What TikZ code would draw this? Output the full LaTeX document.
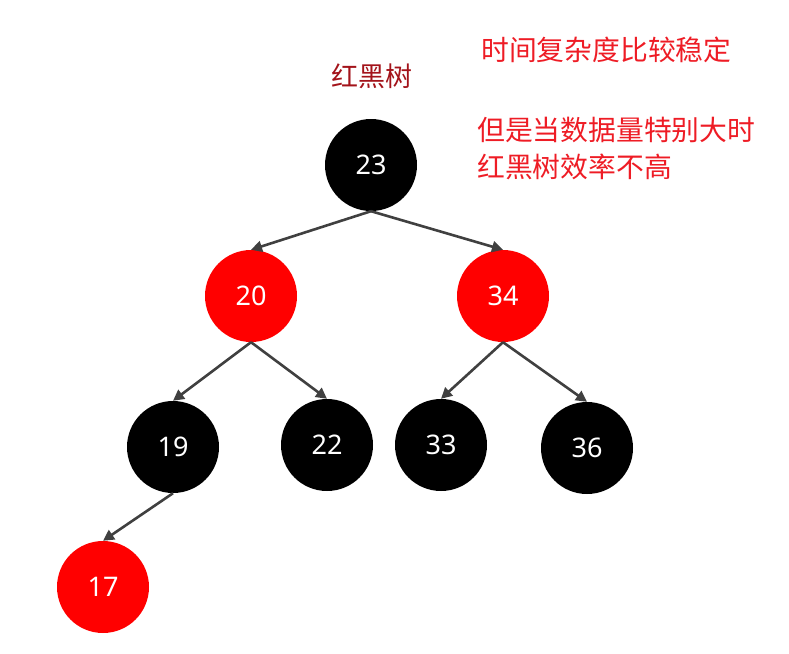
\documentclass[tikz,border=0pt]{standalone}
\usepackage{fontspec}
\setmainfont{Noto Sans}
\newfontfamily\cjk{Noto Sans CJK SC}
\usetikzlibrary{arrows.meta}
\definecolor{rbred}{HTML}{FF0000}
\definecolor{notered}{HTML}{EE1C25}
\definecolor{titlered}{HTML}{A3131A}
\definecolor{linegray}{HTML}{404040}

\begin{document}
\begin{tikzpicture}[x=1pt, y=-1pt,
    blacknode/.style={circle, fill=black, minimum size=92pt, inner sep=0pt,
      text=white, font=\fontsize{27}{27}\selectfont},
    rednode/.style={blacknode, fill=rbred},
    treearrow/.style={draw=linegray, line width=2.6pt, -{Triangle[length=11pt, width=11pt]}},
    note/.style={text=notered, font=\cjk\fontsize{27.8}{37}\selectfont, anchor=west, align=left, inner sep=0pt}]
  \useasboundingbox (0,0) rectangle (789,653);

  % tree nodes
  \node[blacknode] (n23) at (371,165) {23};
  \node[rednode]   (n20) at (251,296) {20};
  \node[rednode]   (n34) at (503,296) {34};
  \node[blacknode] (n19) at (173,447) {19};
  \node[blacknode] (n22) at (327,445) {22};
  \node[blacknode] (n33) at (441,445) {33};
  \node[blacknode] (n36) at (587,448) {36};
  \node[rednode]   (n17) at (103,587) {17};

  \foreach \a/\b in {23/20, 23/34, 20/19, 20/22, 34/33, 34/36, 19/17}
    \draw[treearrow] (n\a.south) -- (n\b.north);

  % texts
  \node[text=titlered, font=\cjk\fontsize{27}{27}\selectfont] (title) at (372,76) {红黑树};
  \node[note] (stable) at (481,50) {时间复杂度比较稳定};
  \node[note] (slow) at (477,148) {但是当数据量特别大时\\红黑树效率不高};
\end{tikzpicture}
\end{document}
